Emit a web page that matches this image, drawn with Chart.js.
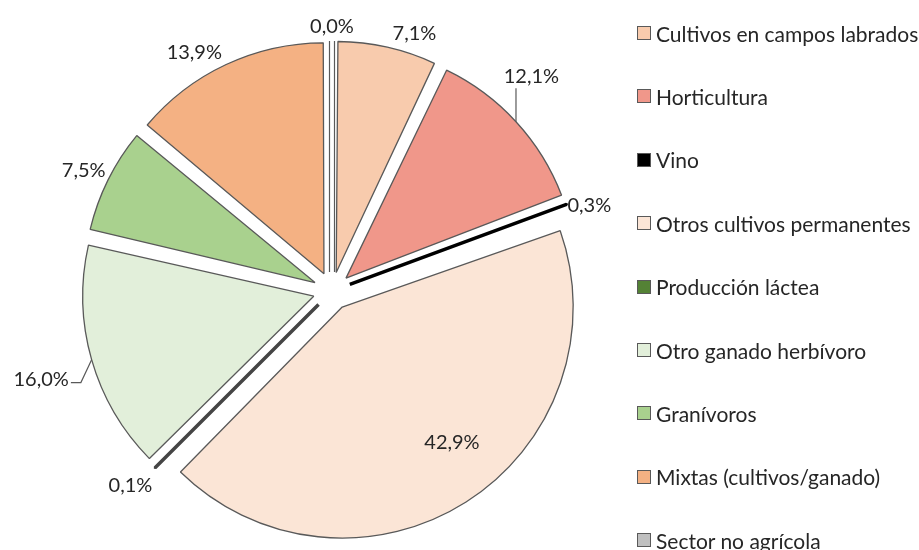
<!DOCTYPE html>
<html lang="es">
<head>
<meta charset="utf-8">
<title>Orientación técnico-económica</title>
<script src="https://cdn.jsdelivr.net/npm/chart.js@4.4.1/dist/chart.umd.min.js"></script>
<style>
  html, body { margin: 0; padding: 0; background: #fff; }
  #wrap { position: relative; width: 919px; height: 550px; overflow: hidden; font-family: Lato, sans-serif; }
  #pie { position: absolute; left: 0; top: 0; }
  #legend { position: absolute; left: 637px; top: 0; margin: 0; padding: 0; list-style: none; }
  #legend li { position: absolute; left: 0; height: 26px; display: flex; align-items: center; white-space: nowrap; font-size: 21px; color: #262626; }
  #legend .box { width: 12px; height: 12px; border: 1px solid #595959; margin-right: 5px; flex: none; }
</style>
</head>
<body>
<div id="wrap">
  <canvas id="pie" width="919" height="550"></canvas>
  <ul id="legend"></ul>
</div>
<script>
// Data
const categories = [
  "Cultivos en campos labrados",
  "Horticultura",
  "Vino",
  "Otros cultivos permanentes",
  "Producción láctea",
  "Otro ganado herbívoro",
  "Granívoros",
  "Mixtas (cultivos/ganado)",
  "Sector no agrícola"
];
const shares = [7.1, 12.1, 0.3, 42.9, 0.1, 16.0, 7.5, 13.9, 0.0];

// Styles
const sliceColors = ["#F8CBAD", "#F0978A", "#000000", "#FBE5D6", "#548235", "#E2EFDA", "#A9D18E", "#F4B183", "#BFBFBF"];
const edgeColors = ["#595959", "#595959", "#000000", "#595959", "#454545", "#595959", "#595959", "#595959", "#595959"];
const edgeWidths = [1.3, 1.3, 3.5, 1.3, 3.5, 1.3, 1.3, 1.3, 1.3];
const pieRadius = 231;
const explode = 76; // chart.js moves a slice by offset / 4
// label placement: [angle shift in degrees, distance beyond exploded rim]
const labelPlace = [[5, 20], [-4.5, 43], [2, 21], [-6, -57], [1, 30], [-1, 54], [-0.5, 26], [-5, 25], [0, 14]];
const leaders = [null, "up", null, null, null, "left", null, null, null];

const fmt = v => v.toFixed(1).replace(".", ",") + "%";

// Legend
const legend = document.getElementById("legend");
categories.forEach((name, i) => {
  const li = document.createElement("li");
  li.style.top = (33 + i * 63.4 - 13) + "px";
  const box = document.createElement("span");
  box.className = "box";
  box.style.background = sliceColors[i];
  li.appendChild(box);
  li.appendChild(document.createTextNode(name));
  legend.appendChild(li);
});

// keep every slice at the same outer radius (chart.js grows offset slices)
const evenRadius = {
  id: "evenRadius",
  afterDatasetUpdate(chart) {
    const shift = explode / 4;
    chart.getDatasetMeta(0).data.forEach(arc => {
      const fix = 1 - Math.sin(Math.min(Math.PI, arc.circumference || 0));
      arc.outerRadius = pieRadius - shift * fix;
    });
  }
};

const sliceLabels = {
  id: "sliceLabels",
  afterDatasetsDraw(chart) {
    const ctx = chart.ctx;
    const shift = explode / 4;
    ctx.save();
    ctx.font = "20px Lato";
    ctx.fillStyle = "#262626";
    ctx.strokeStyle = "#595959";
    ctx.lineWidth = 1.2;
    ctx.textAlign = "center";
    ctx.textBaseline = "middle";
    chart.getDatasetMeta(0).data.forEach((arc, i) => {
      const mid = (arc.startAngle + arc.endAngle) / 2;
      const ax = arc.x + Math.cos(mid) * shift;
      const ay = arc.y + Math.sin(mid) * shift;

      // zero slice drawn as a thin double line
      if (arc.circumference === 0) {
        const px = -Math.sin(mid) * 2.5, py = Math.cos(mid) * 2.5;
        [-1, 1].forEach(s => {
          ctx.beginPath();
          ctx.moveTo(ax + px * s, ay + py * s);
          ctx.lineTo(ax + px * s + Math.cos(mid) * pieRadius, ay + py * s + Math.sin(mid) * pieRadius);
          ctx.stroke();
        });
      }

      const [dA, extra] = labelPlace[i];
      const a = mid + dA * Math.PI / 180;
      const d = pieRadius + shift + extra;
      const lx = arc.x + Math.cos(a) * d;
      const ly = arc.y + Math.sin(a) * d;
      const text = fmt(shares[i]);
      ctx.fillText(text, lx, ly);

      const rx = ax + Math.cos(mid) * pieRadius;
      const ry = ay + Math.sin(mid) * pieRadius;
      const w = ctx.measureText(text).width;
      if (leaders[i] === "up") {
        ctx.beginPath();
        ctx.moveTo(rx, ry);
        ctx.lineTo(rx, ly + 12);
        ctx.stroke();
      } else if (leaders[i] === "left") {
        ctx.beginPath();
        ctx.moveTo(rx, ry);
        ctx.lineTo(lx + w / 2 + 12, ly + 3);
        ctx.lineTo(lx + w / 2 + 2, ly + 3);
        ctx.stroke();
      }
    });
    ctx.restore();
  }
};

const ctx = document.getElementById("pie").getContext("2d");
const pieChart = new Chart(ctx, {
  type: "pie",
  data: {
    labels: categories,
    datasets: [{
      data: shares,
      backgroundColor: sliceColors,
      borderColor: edgeColors,
      borderWidth: edgeWidths,
      offset: explode,
      radius: pieRadius
    }]
  },
  options: {
    responsive: false,
    animation: false,
    layout: { padding: { left: 0, right: 255, top: 32, bottom: 0 } },
    plugins: {
      legend: { display: false },
      tooltip: { enabled: false }
    }
  },
  plugins: [evenRadius, sliceLabels]
});
</script>
</body>
</html>
